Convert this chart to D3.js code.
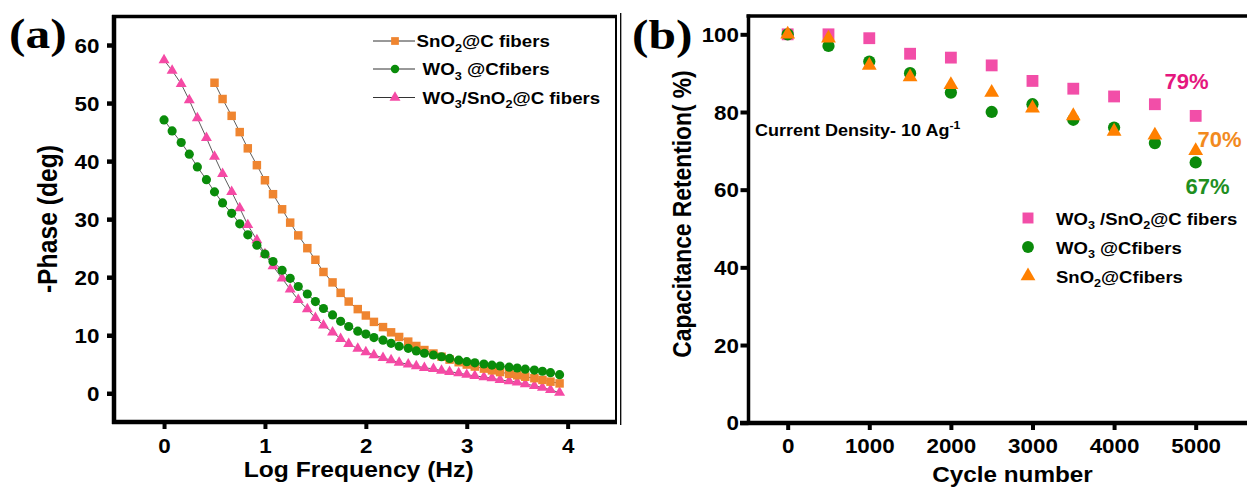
<!DOCTYPE html>
<html><head><meta charset="utf-8">
<script src="https://cdn.jsdelivr.net/npm/d3@7/dist/d3.min.js"></script>
<style>
html,body{margin:0;padding:0;background:#fff;}
svg{display:block;}
text{font-family:"Liberation Sans",Arial,sans-serif;font-weight:bold;}
</style></head>
<body>
<svg id="chart" width="1247" height="487"></svg>
<script>
// ---------- Panel (a) data ----------
const logFreq = [0,0.08,0.17,0.25,0.33,0.42,0.5,0.58,0.67,0.75,0.83,0.92,1,1.08,1.17,1.25,1.33,1.42,1.5,1.58,1.67,1.75,1.83,1.92,2,2.08,2.17,2.25,2.33,2.42,2.5,2.58,2.67,2.75,2.83,2.92,3,3.08,3.17,3.25,3.33,3.42,3.5,3.58,3.67,3.75,3.83,3.92];
const phaseSnO2 = [null,null,null,null,null,null,53.5,50.7,47.8,45.0,42.2,39.3,36.7,34.3,31.7,29.4,27.2,25.0,23.0,20.9,19.1,17.3,15.8,14.5,13.4,12.3,11.4,10.5,9.7,8.9,8.15,7.45,6.85,6.3,5.8,5.35,4.95,4.6,4.25,3.95,3.65,3.35,3.1,2.85,2.6,2.3,2.0,1.7];
const phaseWO3 = [47.1,45.2,43.2,41.2,39.0,36.8,34.7,32.8,31.0,29.2,27.3,25.5,24.0,22.7,21.2,19.8,18.4,17.1,15.8,14.6,13.5,12.4,11.5,10.7,10.2,9.6,9.15,8.6,8.1,7.75,7.3,6.9,6.6,6.3,6.0,5.7,5.45,5.25,5.05,4.85,4.7,4.5,4.35,4.15,4.0,3.8,3.55,3.2];
const phaseWO3SnO2 = [57.4,55.6,53.3,50.5,47.4,44.0,40.8,37.8,34.7,31.9,29.0,26.4,24.0,21.9,19.8,17.9,16.1,14.5,13.0,11.7,10.5,9.4,8.5,7.7,7.1,6.6,6.1,5.7,5.3,5.0,4.7,4.4,4.2,3.9,3.7,3.5,3.2,3.0,2.8,2.6,2.3,2.1,1.9,1.6,1.3,1.0,0.6,0.1];
const xTicksA = [0,1,2,3,4];
const yTicksA = [0,10,20,30,40,50,60];

// ---------- Panel (b) data ----------
const cycles = [0,500,1000,1500,2000,2500,3000,3500,4000,4500,5000];
const retWO3SnO2 = [100,100,99,95,94,92,88,86,84,82,79];
const retWO3 = [100,97,93,90,85,80,82,78,76,72,67];
const retSnO2 = [100,99,92,89,87,85,81,79,75,74,70];
const xTicksB = [0,1000,2000,3000,4000,5000];
const yTicksB = [0,20,40,60,80,100];

const C = {
  pinkA:"#f54aa5", greenA:"#0a8c0a", orangeA:"#ef8530",
  pinkB:"#f24ea8", greenB:"#0a8a0a", orangeB:"#ff8000",
  lab79:"#e5177e", lab70:"#f28a1e", lab67:"#1f8f1f"
};
const SX = 1.12;
const svg = d3.select("#chart");
svg.append("rect").attr("width",1247).attr("height",487).attr("fill","#fff");

// parts: "text" normal, ["x"] subscript, {up:"x"} superscript
function rich(sel, parts, fs){
  let pending = 0;
  parts.forEach(p=>{
    let txt, shift = 0, small = false;
    if (typeof p === "string") { txt = p; }
    else if (Array.isArray(p)) { txt = p[0]; shift = fs*0.28; small = true; }
    else { txt = p.up; shift = -fs*0.42; small = true; }
    const t = sel.append("tspan").text(txt);
    const dy = pending + shift;
    if (dy !== 0) t.attr("dy", dy);
    if (small) t.attr("font-size", fs*0.68);
    pending = -shift;
  });
}
function label(g, x, y, parts, fs, opt={}){
  const sx = opt.sx ?? SX;
  const rot = opt.rotate ? " rotate(-90)" : "";
  const t = g.append("text")
    .attr("transform", `translate(${x},${y}) scale(${sx},1)${rot}`)
    .attr("font-size", fs)
    .attr("text-anchor", opt.anchor || "start")
    .attr("fill", opt.fill || "#000");
  if (opt.family) t.style("font-family", opt.family);
  rich(t, Array.isArray(parts) ? parts : [parts], fs);
  return t;
}
function styleAxis(ax, tw){
  ax.select(".domain").remove();
  ax.selectAll(".tick line").attr("stroke","#000").attr("stroke-width",tw);
  ax.selectAll(".tick text").attr("fill","#000").attr("font-size",20)
    .style("font-family",'"Liberation Sans",Arial,sans-serif').style("font-weight","bold");
}

// ================= Panel (a) =================
const xA = d3.scaleLinear().domain([-0.5,4.5]).range([113.6,618.1]);
const yA = d3.scaleLinear().domain([-5,65]).range([422.3,16.0]);
const gA = svg.append("g");

const axYA = gA.append("g").attr("transform","translate(114,0)")
  .call(d3.axisLeft(yA).tickValues(yTicksA).tickFormat(d3.format("d")).tickSize(7).tickPadding(0));
styleAxis(axYA, 4.5);
axYA.selectAll(".tick text").attr("x",0).attr("dy","0.35em")
  .attr("transform",`translate(-14.5,0) scale(${SX},1)`);
const axXA = gA.append("g").attr("transform","translate(0,422)")
  .call(d3.axisBottom(xA).tickValues(xTicksA).tickFormat(d3.format("d")).tickSize(7).tickPadding(0));
styleAxis(axXA, 4);
axXA.selectAll(".tick text").attr("y",0).attr("dy",0)
  .attr("transform",`translate(0,31) scale(${SX},1)`);

gA.append("line").attr("x1",112).attr("x2",617).attr("y1",16.5).attr("y2",16.5).attr("stroke","#000").attr("stroke-width",3.5);
gA.append("line").attr("x1",616).attr("x2",616).attr("y1",15).attr("y2",424).attr("stroke","#000").attr("stroke-width",2);
gA.append("line").attr("x1",114).attr("x2",114).attr("y1",15).attr("y2",424).attr("stroke","#000").attr("stroke-width",4.5);
gA.append("line").attr("x1",112).attr("x2",617).attr("y1",422).attr("y2",422).attr("stroke","#000").attr("stroke-width",4.5);

const seriesA = [
  {vals:phaseWO3SnO2, color:C.pinkA, sym:d3.symbolTriangle, size:52},
  {vals:phaseSnO2, color:C.orangeA, sym:d3.symbolSquare, size:72},
  {vals:phaseWO3, color:C.greenA, sym:d3.symbolCircle, size:66}
];
const lineA = d3.line().defined(d=>d[1]!=null).x(d=>xA(d[0])).y(d=>yA(d[1]));
seriesA.forEach(s=>{
  const pts = logFreq.map((f,i)=>[f,s.vals[i]]);
  gA.append("path").attr("d",lineA(pts)).attr("fill","none").attr("stroke","#333").attr("stroke-width",0.8);
});
seriesA.forEach(s=>{
  const pts = logFreq.map((f,i)=>[f,s.vals[i]]).filter(d=>d[1]!=null);
  gA.append("g").selectAll("path").data(pts).join("path")
    .attr("d", d3.symbol(s.sym, s.size)())
    .attr("transform", d=>`translate(${xA(d[0])},${yA(d[1])})`)
    .attr("fill", s.color);
});

const legA = [
  {parts:["SnO",["2"],"@C fibers"], color:C.orangeA, sym:d3.symbolSquare, size:60, y:41, tx:416.5},
  {parts:["WO",["3"]," @Cfibers"], color:C.greenA, sym:d3.symbolCircle, size:56, y:69, tx:422.5},
  {parts:["WO",["3"],"/SnO",["2"],"@C fibers"], color:C.pinkA, sym:d3.symbolTriangle, size:52, y:97.5, tx:422.5}
];
legA.forEach(l=>{
  gA.append("line").attr("x1",373).attr("x2",415).attr("y1",l.y).attr("y2",l.y).attr("stroke","#333").attr("stroke-width",1);
  gA.append("path").attr("d",d3.symbol(l.sym,l.size)()).attr("transform",`translate(395,${l.y})`).attr("fill",l.color);
  label(gA, l.tx, l.y+6, l.parts, 17, {sx:1.1});
});

label(gA, 358.7, 477, "Log Frequency (Hz)", 22, {anchor:"middle"});
label(gA, 57, 219, "-Phase (deg)", 24.7, {anchor:"middle", rotate:true});
label(gA, 9, 48, "(a)", 43, {sx:1.15, family:'"Liberation Serif","Times New Roman",serif'});

svg.append("line").attr("x1",620.7).attr("x2",620.7).attr("y1",13).attr("y2",425).attr("stroke","#000").attr("stroke-width",1.3);

// ================= Panel (b) =================
const xB = d3.scaleLinear().domain([-490,5700]).range([747.7,1252.8]);
const yB = d3.scaleLinear().domain([0,105]).range([422.7,14.9]);
const gB = svg.append("g");

const axYB = gB.append("g").attr("transform","translate(748.5,0)")
  .call(d3.axisLeft(yB).tickValues(yTicksB).tickFormat(d3.format("d")).tickSize(8).tickPadding(0));
styleAxis(axYB, 4);
axYB.selectAll(".tick text").attr("x",0).attr("dy","0.35em")
  .attr("transform",`translate(-9.5,0) scale(${SX},1)`);
const axXB = gB.append("g").attr("transform","translate(0,423)")
  .call(d3.axisBottom(xB).tickValues(xTicksB).tickFormat(d3.format("d")).tickSize(7).tickPadding(0));
styleAxis(axXB, 4);
axXB.selectAll(".tick text").attr("y",0).attr("dy",0)
  .attr("transform",`translate(0,30) scale(${SX},1)`);

gB.append("line").attr("x1",746.5).attr("x2",1247).attr("y1",16).attr("y2",16).attr("stroke","#000").attr("stroke-width",3.5);
gB.append("line").attr("x1",748.5).attr("x2",748.5).attr("y1",14.5).attr("y2",425).attr("stroke","#000").attr("stroke-width",3.5);
gB.append("line").attr("x1",740).attr("x2",1247).attr("y1",423).attr("y2",423).attr("stroke","#000").attr("stroke-width",4.5);

const seriesB = [
  {vals:retWO3SnO2, color:C.pinkB, sym:d3.symbolSquare, size:140},
  {vals:retWO3, color:C.greenB, sym:d3.symbolCircle, size:118},
  {vals:retSnO2, color:C.orangeB, sym:d3.symbolTriangle, size:95}
];
seriesB.forEach(s=>{
  gB.append("g").selectAll("path").data(cycles.map((c,i)=>[c,s.vals[i]])).join("path")
    .attr("d", d3.symbol(s.sym, s.size)())
    .attr("transform", d=>`translate(${xB(d[0])},${yB(d[1])})`)
    .attr("fill", s.color);
});

const legB = [
  {parts:["WO",["3"]," /SnO",["2"],"@C fibers"], color:C.pinkB, sym:d3.symbolSquare, size:120, y:218},
  {parts:["WO",["3"]," @Cfibers"], color:C.greenB, sym:d3.symbolCircle, size:110, y:247},
  {parts:["SnO",["2"],"@Cfibers"], color:C.orangeB, sym:d3.symbolTriangle, size:95, y:276}
];
legB.forEach(l=>{
  gB.append("path").attr("d",d3.symbol(l.sym,l.size)()).attr("transform",`translate(1028,${l.y})`).attr("fill",l.color);
  label(gB, 1056, l.y+6.5, l.parts, 17, {sx:1.09});
});

label(gB, 755, 136, ["Current Density- 10 Ag",{up:"-1"}], 17, {sx:1.06});
label(gB, 1186.5, 89, "79%", 22, {anchor:"middle", fill:C.lab79, sx:1.0});
label(gB, 1219.5, 147, "70%", 22, {anchor:"middle", fill:C.lab70, sx:1.0});
label(gB, 1207.5, 194, "67%", 22, {anchor:"middle", fill:C.lab67, sx:1.0});

label(gB, 1012.5, 482, "Cycle number", 21.7, {anchor:"middle"});
label(gB, 691, 214, "Capacitance Retention( %)", 22.8, {anchor:"middle", rotate:true});
label(gB, 632, 49, "(b)", 43, {sx:1.15, family:'"Liberation Serif","Times New Roman",serif'});
</script>
</body></html>
